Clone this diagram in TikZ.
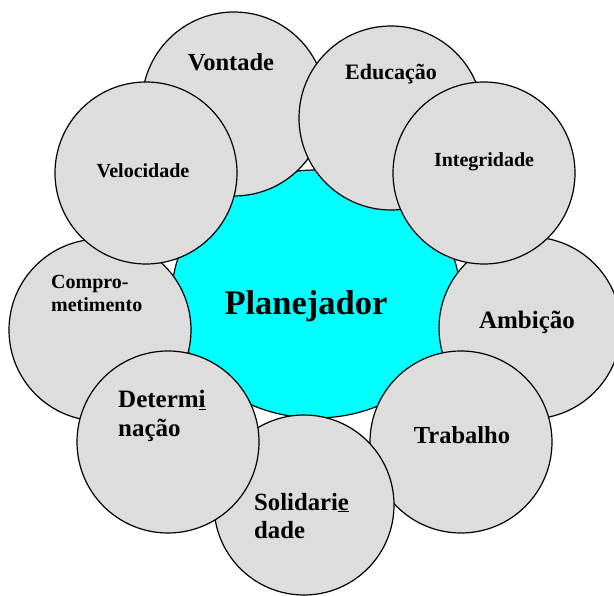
\documentclass[tikz,border=0pt]{standalone}
\usepackage{fontspec}
\setmainfont{Liberation Serif}
\usetikzlibrary{positioning,shapes.geometric}
\definecolor{petalgray}{RGB}{221,221,221}
\definecolor{corecyan}{RGB}{0,255,255}

\begin{document}
\begin{tikzpicture}[x=1pt,y=-1pt,petal/.style={draw,circle,fill=petalgray,line width=1.2pt,inner sep=0pt},core/.style={draw,ellipse,fill=corecyan,line width=1.2pt,inner sep=0pt,minimum width=288pt,minimum height=248pt},lbl/.style={inner sep=0pt,font=\bfseries}]
\useasboundingbox (0,0) rectangle (614,596);
\node[core] (plan) at (316,294) {};
% circles round the centre, drawn bottom to top
\foreach \n/\x/\y/\d in {vontade/234/104/184,compro/100/330/182,ambicao/530/328/182,educacao/391/118/184,veloc/146/173/182,integr/484/173/182,trabalho/461/442/182,solid/304/505/180,determ/168/442/182} {
   \node[petal, minimum size=\d pt] (\n) at (\x,\y) {};
}
% labels
\node[lbl, anchor=base, font=\bfseries\fontsize{34.5}{40}\selectfont] (tplan) at (306,315) {Planejador};
\foreach \n/\x/\y/\s/\t in {vontade/231/71/24.5/Vontade,educacao/391/80/22/Educação,integr/484/167/20/Integridade,veloc/143/178/20/Velocidade,ambicao/527/329/25/Ambição,trabalho/462/443/24.5/Trabalho} {
   \node[lbl, anchor=base, font=\bfseries\fontsize{\s}{\s}\selectfont] (t\n) at (\x,\y) {\t};
}
\node[lbl, anchor=base west, align=left, font=\bfseries\fontsize{20}{23}\selectfont] (tcompro) at (51,312) {Compro-\\metimento};
\node[lbl, anchor=base west, align=left, font=\bfseries\fontsize{25}{29}\selectfont] (tdeterm) at (118,437) {Determ\underline{i}\\nação};
\node[lbl, anchor=base west, align=left, font=\bfseries\fontsize{24.7}{28}\selectfont] (tsolid) at (254,538) {Solidari\underline{e}\\dade};
\end{tikzpicture}
\end{document}
